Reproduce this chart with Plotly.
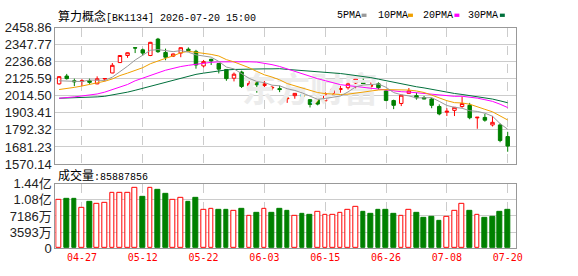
import plotly.graph_objects as go

W, H = 578, 276

dates = ["04-22", "04-23", "04-24", "04-27", "04-28", "04-29", "04-30", "05-06", "05-07", "05-08",
         "05-11", "05-12", "05-13", "05-14", "05-15", "05-18", "05-19", "05-20", "05-21", "05-22",
         "05-25", "05-26", "05-27", "05-28", "05-29", "06-01", "06-02", "06-03", "06-04", "06-05",
         "06-08", "06-09", "06-10", "06-11", "06-12", "06-15", "06-16", "06-17", "06-18", "06-22",
         "06-23", "06-24", "06-25", "06-26", "06-29", "06-30", "07-01", "07-02", "07-03", "07-06",
         "07-07", "07-08", "07-09", "07-10", "07-13", "07-14", "07-15", "07-16", "07-17", "07-20"]
tick_dates = ["04-27", "05-12", "05-22", "06-03", "06-15", "06-26", "07-08", "07-20"]

opens = [2093, 2144, 2113, 2109, 2113, 2093, 2125, 2164, 2232, 2278,
         2329, 2315, 2278, 2385, 2298, 2274, 2294, 2319, 2305, 2210,
         2253, 2226, 2187, 2130, 2170, 2080, 2101, 2082, 2066, 2062,
         1996, 2016, 2022, 1990, 1990, 1982, 2031, 2056, 2068, 2099,
         2113, 2076, 2093, 2047, 1984, 1965, 2031, 2016, 2004, 1994,
         1945, 1908, 1920, 1945, 1953, 1871, 1874, 1825, 1825, 1749]
highs = [2144, 2158, 2127, 2124, 2127, 2142, 2130, 2229, 2281, 2298,
         2330, 2323, 2367, 2393, 2323, 2291, 2331, 2331, 2315, 2249,
         2257, 2230, 2190, 2167, 2179, 2124, 2102, 2113, 2080, 2082,
         2041, 2033, 2041, 1993, 1996, 2041, 2062, 2080, 2105, 2126,
         2138, 2103, 2103, 2050, 1990, 2021, 2066, 2035, 2014, 2002,
         1959, 1934, 1942, 2010, 1969, 1876, 1897, 1883, 1835, 1780]
lows = [2088, 2121, 2078, 2078, 2093, 2091, 2109, 2162, 2229, 2263,
        2294, 2278, 2274, 2295, 2247, 2268, 2267, 2304, 2192, 2200,
        2216, 2161, 2113, 2109, 2066, 2079, 2035, 2072, 2051, 2039,
        1969, 1996, 1979, 1939, 1953, 1980, 2021, 2035, 2056, 2062,
        2086, 2056, 2056, 1980, 1928, 1948, 2030, 1990, 1993, 1934,
        1888, 1883, 1883, 1937, 1862, 1800, 1846, 1815, 1712, 1650]
closes = [2140, 2127, 2107, 2113, 2103, 2126, 2128, 2214, 2278, 2296,
          2327, 2294, 2364, 2303, 2267, 2288, 2329, 2311, 2216, 2238,
          2243, 2189, 2127, 2156, 2076, 2096, 2087, 2093, 2070, 2056,
          2000, 2031, 2010, 1959, 1961, 2027, 2060, 2062, 2093, 2124,
          2089, 2086, 2068, 1985, 1953, 2019, 2047, 2002, 1994, 1953,
          1897, 1914, 1940, 1965, 1872, 1875, 1856, 1842, 1723, 1687]

ma5 = [2113, 2110, 2108, 2108, 2118, 2115.2, 2115.4, 2136.8, 2169.8, 2208.4,
       2248.6, 2281.8, 2311.8, 2316.8, 2311, 2303.2, 2310.2, 2299.6, 2282.2, 2276.4,
       2267.4, 2239.4, 2202.6, 2190.6, 2158.2, 2128.8, 2108.4, 2101.6, 2084.4, 2080.4,
       2061.2, 2050, 2033.4, 2011.2, 1992.2, 1997.6, 2003.4, 2013.8, 2040.6, 2073.2,
       2085.6, 2090.8, 2092, 2070.4, 2036.2, 2022.2, 2014.4, 2001.2, 2003, 2003,
       1978.6, 1952, 1939.6, 1933.8, 1917.6, 1913.2, 1901.6, 1882, 1833.6, 1796.6]
ma10 = [2056, 2062, 2070, 2079, 2088, 2098, 2110, 2125, 2147, 2163.2,
        2181.9, 2198.6, 2224.3, 2243.3, 2259.7, 2275.9, 2296, 2305.7, 2299.5, 2293.7,
        2285.3, 2274.8, 2251.1, 2236.4, 2217.3, 2198.1, 2173.9, 2152.1, 2137.5, 2119.3,
        2095, 2079.2, 2067.5, 2047.8, 2036.3, 2029.4, 2026.7, 2023.6, 2025.9, 2032.7,
        2041.6, 2047.1, 2052.9, 2055.5, 2054.7, 2053.9, 2052.6, 2046.6, 2036.7, 2019.6,
        2000.4, 1983.2, 1970.4, 1968.4, 1960.3, 1945.9, 1926.8, 1910.8, 1883.7, 1857.1]
ma20 = [1999, 2002, 2008, 2014, 2020, 2027, 2039, 2057, 2073, 2089,
        2113, 2132, 2150, 2165, 2182, 2196, 2206, 2214, 2221, 2228.5,
        2233.6, 2236.7, 2237.7, 2239.9, 2238.5, 2237, 2235, 2228.9, 2218.5, 2206.5,
        2190.2, 2177, 2159.3, 2142.1, 2126.8, 2113.8, 2100.3, 2087.9, 2081.7, 2076,
        2068.3, 2063.2, 2060.2, 2051.7, 2045.5, 2041.7, 2039.7, 2035.1, 2031.3, 2026.2,
        2021, 2015.2, 2011.7, 2012, 2007.5, 1999.9, 1989.7, 1978.7, 1960.2, 1938.4]
ma30 = [1999, 2000, 2002, 2004, 2006, 2008, 2012, 2020, 2029, 2039,
        2051, 2064, 2076, 2092, 2104, 2118, 2130, 2142, 2155, 2163,
        2171, 2178, 2184, 2187, 2189, 2190, 2191, 2191, 2191, 2192.1,
        2187.4, 2184.2, 2181, 2175.8, 2171.1, 2167.8, 2165.5, 2160.5, 2154.3, 2148.6,
        2140.6, 2133.7, 2123.8, 2113.3, 2102.8, 2093.8, 2084.4, 2074.1, 2066.7, 2057.2,
        2045.7, 2036.5, 2030.3, 2023.9, 2017.1, 2009.7, 2002, 1993.7, 1982.1, 1969.8]

volumes = [108400000, 110500000, 110500000, 90900000, 104200000, 99300000, 101400000, 122600000, 122600000, 122600000,
           135300000, 114100000, 135300000, 131000000, 120500000, 108400000, 112000000, 103900000, 112000000, 86000000,
           88800000, 86700000, 86700000, 83900000, 88800000, 73300000, 78200000, 88100000, 78200000, 88800000,
           82400000, 71200000, 76100000, 74000000, 81800000, 75400000, 75400000, 79700000, 86700000, 92300000,
           80300000, 77500000, 86700000, 86700000, 76100000, 71200000, 86700000, 78200000, 68300000, 69700000,
           61300000, 69700000, 83900000, 98600000, 84500000, 75400000, 68300000, 69700000, 80300000, 85887856]

price_ticks = [1570.14, 1681.23, 1792.32, 1903.41, 2014.50, 2125.59, 2236.68, 2347.77, 2458.86]
vol_ticks = [0, 35930000, 71860000, 107790000, 143720000]
vol_tick_text = ["0", "3593万", "7186万", "1.08亿", "1.44亿"]

title_name = "算力概念"
title_code = "[BK1134] 2026-07-20 15:00"
vol_label = "成交量:85887856"

RED = "#ff0000"
GREEN = "#008000"
MA_COLORS = ["#999999", "#f0a000", "#ff00ff", "#00703c"]
MA_NAMES = ["5PMA", "10PMA", "20PMA", "30PMA"]


def px_x(v):
    return v / W


def px_y(v):
    return 1 - v / H


fig = go.Figure()

# watermark (beneath data)
fig.add_trace(go.Scatter(x=[dates[33]], y=[2027], mode="text", text=["东方财富"],
                         textfont=dict(family="Noto Sans CJK SC", size=34, color="#ececec", weight=700),
                         hoverinfo="skip", showlegend=False, xaxis="x", yaxis="y"))

for vals, col in zip([ma30, ma20, ma10, ma5], MA_COLORS[::-1]):
    fig.add_trace(go.Scatter(x=dates, y=vals, mode="lines", line=dict(color=col, width=1),
                             hoverinfo="skip", showlegend=False, xaxis="x", yaxis="y"))

fig.add_trace(go.Candlestick(
    x=dates, open=opens, high=highs, low=lows, close=closes,
    increasing=dict(line=dict(color=RED, width=1), fillcolor="#ffffff"),
    decreasing=dict(line=dict(color=GREEN, width=1), fillcolor=GREEN),
    whiskerwidth=0, hoverinfo="skip", showlegend=False, xaxis="x", yaxis="y"))

vol_up = [closes[0] >= opens[0]] + [closes[i] >= closes[i - 1] for i in range(1, len(closes))]
fig.add_trace(go.Bar(
    x=dates, y=volumes, width=0.62,
    marker=dict(color=["#ffffff" if u else GREEN for u in vol_up],
                line=dict(color=[RED if u else GREEN for u in vol_up], width=1)),
    hoverinfo="skip", showlegend=False, xaxis="x2", yaxis="y2"))

xdom = [px_x(56), px_x(522)]
xr = [-0.5, 60.05]
common_x = dict(domain=xdom, range=xr, type="category", categoryorder="array", categoryarray=dates,
                tickvals=tick_dates, ticktext=tick_dates,
                showgrid=True, griddash="dash", gridcolor="#cccccc", gridwidth=1,
                showline=True, mirror=True, linecolor="#999999", linewidth=1, ticks="", zeroline=False,
                fixedrange=True)

fig.update_layout(
    width=W, height=H, margin=dict(l=0, r=0, t=0, b=0),
    paper_bgcolor="#ffffff", plot_bgcolor="#ffffff", showlegend=False,
    boxgap=0.35, bargap=0,
    xaxis=dict(**common_x, anchor="y", showticklabels=False, rangeslider=dict(visible=False)),
    xaxis2=dict(**common_x, anchor="y2", showticklabels=True,
                tickfont=dict(family="DejaVu Sans Mono", size=10, color=RED)),
    yaxis=dict(domain=[px_y(166), px_y(22)], range=[price_ticks[0], price_ticks[-1]],
               tickvals=price_ticks, ticktext=["%.2f" % v for v in price_ticks],
               showgrid=True, gridcolor="#cccccc", showline=True, mirror=True, linecolor="#999999",
               ticks="", zeroline=False, tickfont=dict(family="Liberation Sans", size=13, color="#222222"),
               fixedrange=True),
    yaxis2=dict(domain=[px_y(255), px_y(187)], range=[vol_ticks[0], vol_ticks[-1]],
                tickvals=vol_ticks, ticktext=vol_tick_text,
                showgrid=True, gridcolor="#cccccc", showline=True, mirror=True, linecolor="#999999",
                ticks="", zeroline=False, tickfont=dict(family="Liberation Sans, Noto Sans CJK SC", size=13, color="#222222"),
                fixedrange=True),
)

annotations = [
    dict(x=px_x(57), y=px_y(8.7), xref="paper", yref="paper", xanchor="left", yanchor="middle",
         showarrow=False,
         text='<span style="font-family:Noto Sans CJK SC;font-size:12px">%s</span>'
              '<span style="font-family:Liberation Mono;font-size:10px">%s</span>' % (title_name, title_code),
         font=dict(family="Liberation Mono", size=10, color="#000000")),
    dict(x=px_x(57), y=px_y(177), xref="paper", yref="paper", xanchor="left", yanchor="middle",
         showarrow=False,
         text='<span style="font-family:Noto Sans CJK SC;font-size:12px">成交量</span>'
              '<span style="font-family:Liberation Mono;font-size:10px">%s</span>' % vol_label[3:],
         font=dict(family="Liberation Mono", size=10, color="#000000")),
]
legend_x = [339, 381, 426, 472]
square_x = [366, 413, 460, 506]
shapes = []
for name, col, lx, sx in zip(MA_NAMES, MA_COLORS, legend_x, square_x):
    annotations.append(dict(x=px_x(lx), y=px_y(8.7), xref="paper", yref="paper", xanchor="left",
                            yanchor="middle", showarrow=False, text=name,
                            font=dict(family="Liberation Mono", size=10, color="#000000")))
    shapes.append(dict(type="rect", xref="paper", yref="paper", x0=px_x(sx), x1=px_x(sx + 5),
                       y0=px_y(10.5), y1=px_y(7), fillcolor=col, line=dict(width=0)))
fig.update_layout(annotations=annotations, shapes=shapes)

fig.write_html("out.html")
